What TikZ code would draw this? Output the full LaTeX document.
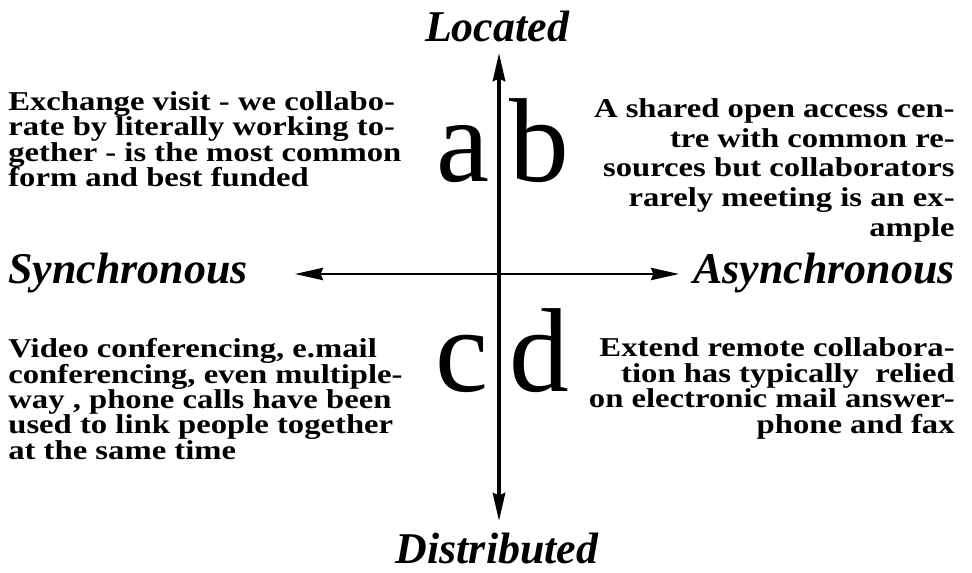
\documentclass[tikz,border=0pt]{standalone}
\usepackage{fontspec}
\setmainfont{Liberation Serif}
\newfontfamily\notefamily[FakeStretch=1.2]{Liberation Serif}
\usetikzlibrary{arrows.meta,positioning}
\newcommand\notefont[1]{\notefamily\fontsize{15.5}{#1}\selectfont\bfseries\lineskiplimit-50pt\relax}

\begin{document}
\begin{tikzpicture}[x=0.02cm, y=-0.02cm,
    axis/.style={{Stealth[length=16pt,width=7pt,inset=1.5pt]}-{Stealth[length=16pt,width=7pt,inset=1.5pt]}},
    pole/.style={font=\fontsize{25}{25}\selectfont\bfseries\itshape, inner sep=0pt},
    quad/.style={font=\fontsize{68}{68}\selectfont, inner sep=0pt, anchor=base},
    note/.style={font=\notefont{#1}, inner sep=0pt},
    note/.default=14.5pt]
  \useasboundingbox (0,0) rectangle (972,573);
  % axis end points
  \coordinate (top) at (499,53);
  \coordinate (bot) at (499,521);
  \coordinate (lft) at (295,274);
  \coordinate (rgt) at (679,274);
  \draw[axis, line width=2.2pt] (bot) -- (top);
  \draw[axis, line width=1.3pt] (lft) -- (rgt);
  % poles
  \node[pole, anchor=base] (located) at (497,42) {Located};
  \node[pole, anchor=base] (distributed) at (497,563) {Distributed};
  \node[pole, anchor=base west] (sync) at (8,284) {Synchronous};
  \node[pole, anchor=base east] (async) at (955,284) {Asynchronous};
  % quadrant letters
  \node[quad] (qa) at (463,182) {a};
  \node[quad] (qb) at (539,182) {b};
  \node[quad] (qc) at (462,392) {c};
  \node[quad] (qd) at (539,392) {d};
  % quadrant notes
  \node[note, anchor=north west, align=left] (na) at (8,91)
    {Exchange visit - we collabo-\\rate by literally working to-\\gether - is the most common\\form and best funded};
  \node[note=17pt, anchor=north east, align=right] (nb) at (955,98)
    {A shared open access cen-\\tre with common re-\\sources but collaborators\\rarely meeting is an ex-\\ample};
  \node[note, anchor=north west, align=left] (nc) at (8,338)
    {Video conferencing, e.mail\\conferencing, even multiple-\\way , phone calls have been\\used to link people together\\at the same time};
  \node[note=14.7pt, anchor=north east, align=right] (nd) at (955,337)
    {Extend remote collabora-\\tion has typically\ \ relied\\on electronic mail answer-\\phone and fax};
\end{tikzpicture}
\end{document}
